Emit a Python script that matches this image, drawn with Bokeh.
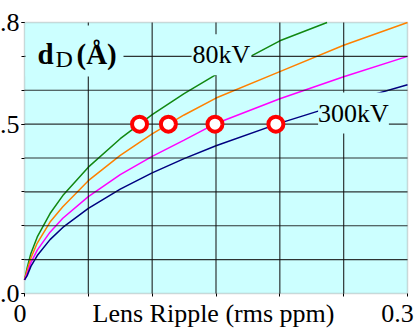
from bokeh.plotting import figure
from bokeh.models import Range1d, FixedTicker, Label, BoxAnnotation
from bokeh.embed import file_html
from bokeh.resources import INLINE

# ---- data ----
ripple_80kv = [0, 0.002, 0.005, 0.01, 0.02, 0.03, 0.05, 0.075, 0.1, 0.125, 0.15, 0.2, 0.237]
d_80kv = [0.04, 0.075, 0.118, 0.167, 0.236, 0.289, 0.373, 0.457, 0.528, 0.590, 0.646, 0.746, 0.80]
ripple = [0, 0.002, 0.005, 0.01, 0.02, 0.03, 0.05, 0.075, 0.1, 0.125, 0.15, 0.2, 0.25, 0.3]
d_120kv = [0.04, 0.067, 0.105, 0.149, 0.211, 0.256, 0.333, 0.408, 0.471, 0.527, 0.577, 0.655, 0.733, 0.800]
d_200kv = [0.04, 0.058, 0.091, 0.128, 0.181, 0.222, 0.286, 0.351, 0.405, 0.453, 0.502, 0.575, 0.640, 0.700]
d_300kv = [0.04, 0.052, 0.080, 0.112, 0.159, 0.195, 0.251, 0.308, 0.356, 0.398, 0.436, 0.503, 0.562, 0.616]

marker_ripple = [0.0901, 0.1127, 0.1492, 0.1969]
marker_d = [0.5, 0.5, 0.5, 0.5]

grid_x = [0, 0.05, 0.1, 0.15, 0.2, 0.25, 0.3]
grid_y = [0, 0.1, 0.2, 0.3, 0.4, 0.5, 0.6, 0.7, 0.8]
y_tick_labels = {0: "0.0", 0.5: "0.5", 0.8: "0.8"}
x_tick_labels = {0: "0", 0.3: "0.3"}
x_title = "Lens Ripple (rms ppm)"

X0, X1, Y0, Y1 = 0.0, 0.3, 0.0, 0.8
# plot area in page pixels
FL, FR, FT, FB = 24, 407, 22, 293
W, H = 414, 328


def sx(px):
    return X0 + (px - FL) / (FR - FL) * (X1 - X0)


def sy(py):
    return Y0 + (FB - py) / (FB - FT) * (Y1 - Y0)


BG = "#ccffff"
SERIF = "Liberation Serif"
GRID_STYLE = dict(line_color="#111111", line_width=1.2, line_alpha=0.85)

p = figure(width=W, height=H, output_backend="svg", toolbar_location=None,
           x_range=Range1d(sx(0), sx(W)), y_range=Range1d(sy(H), sy(0)),
           min_border=0)
p.background_fill_color = "white"
p.border_fill_color = "white"
p.outline_line_color = None
p.xgrid.visible = False
p.ygrid.visible = False

# plot area background and border
p.add_layout(BoxAnnotation(left=X0, right=X1, bottom=Y0, top=Y1, fill_color=BG, fill_alpha=1.0,
                           line_color="#808080", line_width=1.5, level="underlay"))

xa, ya = p.xaxis[0], p.yaxis[0]
xa.fixed_location = Y0
ya.fixed_location = X0
for ax in (xa, ya):
    ax.axis_line_color = None
    ax.major_tick_in = 0
    ax.major_tick_out = 3
    ax.minor_tick_in = 0
    ax.minor_tick_out = 3
    ax.major_tick_line_color = "black"
    ax.minor_tick_line_color = "black"
    ax.major_label_text_font = SERIF
    ax.major_label_text_font_size = "26px"
    ax.major_label_text_color = "black"
xa.ticker = FixedTicker(ticks=[], minor_ticks=grid_x)
ya.ticker = FixedTicker(ticks=sorted(y_tick_labels), minor_ticks=grid_y)
ya.major_label_overrides = y_tick_labels
ya.major_label_standoff = 2

# curves
p.line(ripple_80kv, d_80kv, line_color="#118811", line_width=1.5)
p.line(ripple, d_120kv, line_color="#ff8000", line_width=1.5)
p.line(ripple, d_200kv, line_color="#ff00ff", line_width=1.5)
p.line(ripple, d_300kv, line_color="#000080", line_width=1.5)

# interior grid lines, limited to the plot area
gx = grid_x[1:-1]
gy = grid_y[1:-1]
p.multi_line(xs=[[v, v] for v in gx], ys=[[Y0, Y1] for _ in gx], **GRID_STYLE)
p.multi_line(xs=[[X0, X1] for _ in gy], ys=[[v, v] for v in gy], **GRID_STYLE)

p.circle(marker_ripple, marker_d, radius=7.5, radius_units="screen",
         fill_color="white", line_color="#ff0000", line_width=4)

# dD label box
p.add_layout(BoxAnnotation(left=sx(25), right=sx(123), bottom=sy(76), top=sy(25),
                           fill_color=BG, fill_alpha=1.0, line_color=None))
p.add_layout(Label(x=sx(37), y=sy(53.2), text="d", text_font=SERIF, text_font_size="29px",
                   text_font_style="bold", text_color="black",
                   text_align="left", text_baseline="middle"))
p.add_layout(Label(x=sx(55), y=sy(58.9), text="D", text_font=SERIF, text_font_size="24px",
                   text_color="black", text_align="left", text_baseline="middle"))
p.add_layout(Label(x=sx(76), y=sy(53.2), text="(Å)", text_font=SERIF, text_font_size="29px",
                   text_font_style="bold", text_color="black",
                   text_align="left", text_baseline="middle"))

# series labels
p.add_layout(Label(x=sx(221), y=sy(54.2), text="80kV", text_font=SERIF, text_font_size="26px",
                   text_color="black", text_align="center", text_baseline="middle",
                   background_fill_color=BG, background_fill_alpha=1.0, padding=(1, 6)))
p.add_layout(Label(x=sx(353), y=sy(112.5), text="300kV", text_font=SERIF, text_font_size="26px",
                   text_color="black", text_align="center", text_baseline="middle",
                   background_fill_color=BG, background_fill_alpha=1.0, padding=(0, 6)))

# x tick labels and axis title on one line
x_label_px = {0: 19.5, 0.3: 397}
for v, t in x_tick_labels.items():
    p.add_layout(Label(x=sx(x_label_px[v]), y=sy(313.2), text=t, text_font=SERIF,
                       text_font_size="26px", text_color="black",
                       text_align="center", text_baseline="middle"))
p.add_layout(Label(x=sx(213), y=sy(313.2), text=x_title, text_font=SERIF,
                   text_font_size="26px", text_color="black",
                   text_align="center", text_baseline="middle"))

open("out.html", "w").write(file_html(p, INLINE))
